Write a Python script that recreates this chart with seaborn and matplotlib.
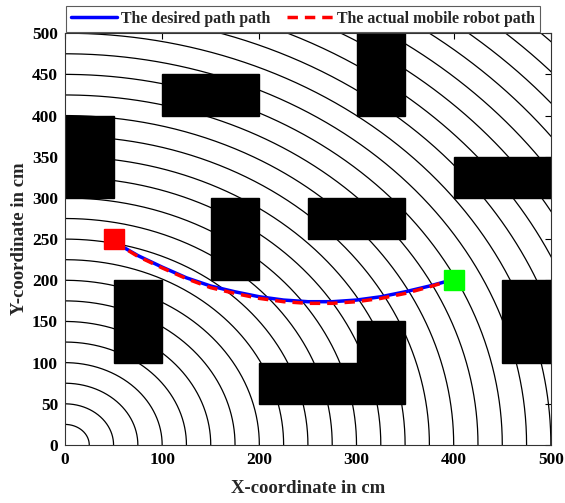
import numpy as np
import pandas as pd
import matplotlib
matplotlib.use("Agg")
import matplotlib.pyplot as plt
import seaborn as sns
from matplotlib.patches import Rectangle

# ---- data ----
radii = [25, 50, 75, 100, 125, 150, 175, 200, 225, 250, 275, 300, 325, 350,
         375, 400, 425, 450, 475, 500, 525, 550, 575, 600, 625, 650, 675, 700]
obs_x = [0, 100, 300, 400, 150, 250, 50, 200, 300, 450]
obs_y = [300, 400, 400, 300, 200, 250, 100, 50, 100, 100]
obs_w = [50, 100, 50, 100, 50, 100, 50, 150, 50, 50]
obs_h = [100, 50, 100, 50, 100, 50, 100, 50, 50, 100]
path_x = [50, 75, 100, 125, 150, 175, 200, 225, 250, 275, 300, 325, 350, 375, 400]
desired_y = [247, 230, 216, 203, 193, 186, 180, 176, 174, 174, 176, 180, 186, 193, 201]
actual_y = [247, 229, 215, 202, 191, 184, 178, 174, 172, 172, 174, 178, 184, 192, 201]
start_pt = (50, 250)
goal_pt = (400, 200)
xticks = [0, 100, 200, 300, 400, 500]
yticks = [0, 50, 100, 150, 200, 250, 300, 350, 400, 450, 500]

sns.set_theme(style="white")
plt.rcParams['font.family'] = ['Liberation Serif', 'DejaVu Serif']
plt.rcParams['font.weight'] = 'bold'

fig = plt.figure(figsize=(5.65, 5.03), dpi=100)
ax = fig.add_axes([0.115, 0.1153, 0.975 - 0.115, 0.934 - 0.1153])

theta = np.linspace(0, np.pi / 2, 400)
for r in radii:
    ax.plot(r * np.cos(theta), r * np.sin(theta), color='black', lw=0.9, zorder=1)

for x0, y0, w, h in zip(obs_x, obs_y, obs_w, obs_h):
    ax.add_patch(Rectangle((x0, y0), w, h, facecolor='black', edgecolor='black', zorder=2))

df = pd.DataFrame({'x': path_x, 'desired': desired_y, 'actual': actual_y})
sns.lineplot(data=df, x='x', y='desired', ax=ax, color='blue', lw=2.5,
             label='The desired path path', zorder=3, sort=False)
sns.lineplot(data=df, x='x', y='actual', ax=ax, color='red', lw=2.5,
             linestyle=(0, (3, 2)), label='The actual mobile robot path', zorder=4, sort=False)

ax.plot([start_pt[0]], [start_pt[1]], marker='s', color='red', markersize=14, zorder=5, ls='none')
ax.plot([goal_pt[0]], [goal_pt[1]], marker='s', color='#00ff00', markersize=14, zorder=5, ls='none')

ax.set_xlim(0, 500)
ax.set_ylim(0, 500)
ax.set_xticks(xticks)
ax.set_yticks(yticks)
ax.tick_params(direction='in', length=4, width=0.8, top=True, right=True,
               labelsize=12.5, colors='black', pad=5)
for lab in ax.get_xticklabels() + ax.get_yticklabels():
    lab.set_fontweight('bold')
for s in ax.spines.values():
    s.set_color('#333333')
    s.set_linewidth(0.8)

ax.set_xlabel('X-coordinate in cm', fontsize=13.5, fontweight='bold', labelpad=9)
ax.set_ylabel('Y-coordinate in cm', fontsize=13.5, fontweight='bold', labelpad=3)

leg = ax.legend(loc='lower center', bbox_to_anchor=(0.49, 1.0), ncol=2, frameon=True,
                fancybox=False, edgecolor='#333333', fontsize=11.4, borderpad=0.3,
                handlelength=2.9, columnspacing=1.0, handletextpad=0.3, borderaxespad=0.1)
leg.get_frame().set_linewidth(0.8)
for t in leg.get_texts():
    t.set_fontweight('bold')

fig.savefig('out.png', dpi=100)
